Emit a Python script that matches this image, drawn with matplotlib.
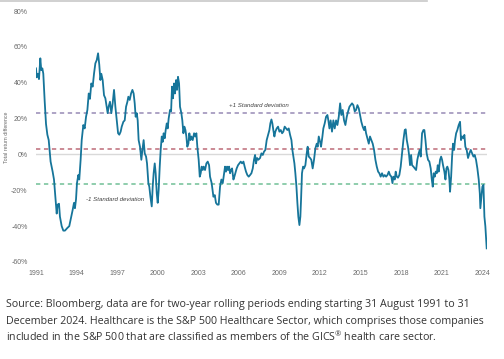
import matplotlib.pyplot as plt
from matplotlib.lines import Line2D

# two-year rolling total return difference, healthcare vs S&P 500 (%)
dates = [
    1991.67, 1991.72, 1991.82, 1991.89, 1991.99, 1992.06, 1992.14, 1992.21, 1992.31, 1992.41,
    1992.51, 1992.61, 1992.75, 1992.90, 1993.00, 1993.10, 1993.20, 1993.27, 1993.37, 1993.44,
    1993.57, 1993.69, 1993.81, 1993.99, 1994.13, 1994.28, 1994.38, 1994.48, 1994.55, 1994.63,
    1994.70, 1994.80, 1994.87, 1994.97, 1995.05, 1995.17, 1995.27, 1995.37, 1995.47, 1995.57,
    1995.66, 1995.76, 1995.86, 1995.96, 1996.06, 1996.16, 1996.26, 1996.35, 1996.43, 1996.50,
    1996.60, 1996.70, 1996.80, 1996.90, 1996.97, 1997.04, 1997.14, 1997.24, 1997.34, 1997.44,
    1997.54, 1997.64, 1997.74, 1997.83,
    1997.93, 1998.01, 1998.13, 1998.23, 1998.33, 1998.43, 1998.50, 1998.60, 1998.70, 1998.80,
    1998.89, 1998.97, 1999.04, 1999.12, 1999.19, 1999.26, 1999.36, 1999.46, 1999.54, 1999.63,
    1999.71, 1999.81, 1999.88, 1999.98, 2000.05, 2000.13, 2000.23, 2000.30, 2000.37, 2000.45,
    2000.52, 2000.60, 2000.67, 2000.74, 2000.82, 2000.89, 2000.97, 2001.04, 2001.11, 2001.19,
    2001.26, 2001.34, 2001.41, 2001.48, 2001.58, 2001.66, 2001.73, 2001.80, 2001.88, 2001.95,
    2002.03, 2002.10, 2002.17, 2002.25, 2002.32, 2002.42, 2002.49, 2002.57, 2002.64, 2002.72,
    2002.79, 2002.86, 2002.94, 2003.01, 2003.09, 2003.16, 2003.26, 2003.36, 2003.45, 2003.53,
    2003.60, 2003.70, 2003.78, 2003.85, 2003.92, 2004.00, 2004.07, 2004.17, 2004.27, 2004.37,
    2004.47, 2004.54,
    2004.66, 2004.79, 2004.89, 2004.98, 2005.08, 2005.18, 2005.28, 2005.38, 2005.48, 2005.58,
    2005.65, 2005.72, 2005.80, 2005.87, 2005.95, 2006.02, 2006.09, 2006.17, 2006.27, 2006.34,
    2006.41, 2006.51, 2006.61, 2006.71, 2006.81, 2006.91, 2007.01, 2007.10, 2007.20, 2007.30,
    2007.40, 2007.50, 2007.60, 2007.70, 2007.79, 2007.87, 2007.94, 2008.02, 2008.11, 2008.24,
    2008.34, 2008.44, 2008.53, 2008.63, 2008.73, 2008.83, 2008.93, 2009.00, 2009.08, 2009.15,
    2009.22, 2009.30, 2009.37, 2009.47, 2009.57, 2009.67, 2009.77, 2009.87, 2009.96, 2010.06,
    2010.16, 2010.26, 2010.36, 2010.46, 2010.56, 2010.63, 2010.70, 2010.78, 2010.85, 2010.93,
    2011.00, 2011.07, 2011.15, 2011.22,
    2011.27, 2011.34, 2011.42, 2011.49, 2011.59, 2011.69, 2011.76, 2011.84, 2011.94, 2012.03,
    2012.13, 2012.23, 2012.33, 2012.43, 2012.50, 2012.58, 2012.68, 2012.75, 2012.85, 2012.92,
    2013.02, 2013.12, 2013.22, 2013.29, 2013.37, 2013.46, 2013.56, 2013.66, 2013.76, 2013.86,
    2013.96, 2014.06, 2014.16, 2014.25, 2014.35, 2014.45, 2014.55, 2014.65, 2014.75, 2014.85,
    2014.94, 2015.04, 2015.14, 2015.24, 2015.34, 2015.44, 2015.54, 2015.63, 2015.73, 2015.83,
    2015.93, 2016.00, 2016.08, 2016.18, 2016.28, 2016.37, 2016.47, 2016.57, 2016.67, 2016.77,
    2016.87, 2016.97, 2017.06, 2017.16, 2017.26, 2017.36, 2017.46, 2017.56, 2017.66, 2017.76,
    2017.85,
    2017.95, 2018.03, 2018.10, 2018.20, 2018.27, 2018.35, 2018.44, 2018.54, 2018.64, 2018.74,
    2018.84, 2018.94, 2019.01, 2019.09, 2019.18, 2019.26, 2019.33, 2019.41, 2019.48, 2019.58,
    2019.68, 2019.78, 2019.87, 2019.97, 2020.05, 2020.12, 2020.22, 2020.32, 2020.39, 2020.47,
    2020.56, 2020.66, 2020.76, 2020.86, 2020.94, 2021.01, 2021.08, 2021.16, 2021.23, 2021.31,
    2021.38, 2021.45, 2021.55, 2021.63, 2021.70, 2021.77, 2021.87, 2021.95, 2022.02, 2022.09,
    2022.17, 2022.24, 2022.29, 2022.37, 2022.44, 2022.51, 2022.59, 2022.66, 2022.74, 2022.83,
    2022.93, 2023.03, 2023.10, 2023.18, 2023.28, 2023.35, 2023.42, 2023.52, 2023.62, 2023.72,
    2023.82, 2023.92, 2024.02, 2024.11, 2024.21, 2024.31, 2024.41, 2024.49, 2024.53, 2024.61,
    2024.68, 2024.76, 2024.83, 2024.90, 2024.96, 2025.00,
]
excess = [
    48, 43, 45, 42, 53.6, 47, 48, 45, 30, 17,
    11, 8, -4, -9.6, -14, -23.6, -33, -28, -27.5, -34.7,
    -40, -42.5, -42.5, -41, -40, -34.7, -31, -27, -30, -25,
    -16, -11.5, -14, -3, 8, 16.4, 14.5, 21, 24.8, 34,
    31, 39.6, 37.8, 45, 50.8, 52.6, 56.4, 50, 41.5, 45,
    41.5, 33, 31.3, 26.6, 23, 26.6, 29.4, 23, 28.5, 36,
    26.6, 19, 11.8, 11,
    12.7, 15.5, 18.2, 19, 26.6, 29.4, 32.2, 30.4, 34, 36,
    34, 28.5, 21, 23, 19, 8, 4.3, -3, 2.5, 8,
    0.6, -1.2, -5, -16, -18, -23.6, -29, -18, -10.5, -5,
    -10.5, -21.7, -27, -20, -6.8, 2.5, 10, 7, 11.8, 9,
    13.6, 17.3, 14.5, 20, 24.8, 24, 37.8, 31.3, 39.6, 34,
    41.5, 36, 43.3, 39.6, 26.6, 23, 19, 11.8, 15.5, 13.6,
    10, 4.3, 6, 11.8, 8, 10, 8, 11.8, 10, 11.8,
    4.3, -3, -12.4, -10.5, -6.8, -8.7, -6.8, -8.7, -5, -4,
    -6, -12.4,
    -16, -23.6, -22.7, -27, -28, -28, -18, -14, -16, -10.5,
    -6.8, -9.6, -6.8, -8.7, -6.8, -10.5, -8.7, -7.8, -14, -12.4,
    -10.5, -7.8, -6, -5, -4, -5, -4, -6.8, -9.6, -11.5,
    -12.4, -11.5, -10.5, -7.8, -3, -0.3, -5, -2, -3, -2,
    0.6, -0.3, 1.5, 2.5, 8, 10.9, 13.6, 17.3, 19.5, 17.3,
    13.6, 10, 12.7, 14.5, 15.5, 12.7, 13.6, 11.8, 12.7, 15.5,
    14.5, 13.6, 14.5, 10.9, 8, 2.5, -1.2, -5, -10.5, -18,
    -27, -34.7, -39.4, -34.7,
    -25.4, -10.5, -6.8, -7.8, -6, 0.6, 4.3, -1.2, -2, -3,
    -7.8, -3, 3.4, 6, 4.3, 10, 7, 4.3, 10, 14.5,
    17.3, 21, 22, 19, 14.5, 19, 12.7, 19, 14.5, 19,
    16.4, 21, 28.5, 22, 24.8, 19, 16.4, 21, 24, 26.6,
    27.5, 28.5, 27.5, 24, 24.8, 27.5, 25.7, 22, 18.2, 15.5,
    13.6, 15.5, 11.8, 9, 6, 10, 8, 6, 2.5, -3,
    -6.8, -9.6, -10.5, -12.4, -10.5, -12.4, -11.5, -12.4, -11.5, -9.6,
    -11.5,
    -12.4, -16, -12.4, -14, -9.6, -12.4, -13, -11.5, -6.8, 0.6,
    8, 13.6, 14, 8, 4.3, -0.3, -6, -0.3, -6, -6.8,
    -7.8, -8.7, -3, 0.6, 2.5, -1.2, 11.8, 13.6, 13.6, 8,
    0.6, -3, -4, -7.8, -14, -18, -10.5, -12.4, -9.6, -10.5,
    -6, -9.6, -3, -1.2, -3, -6, -9.6, -14, -7.8, -6.8,
    -8.7, -14, -20.8, -12.4, -1.2, 6, 2.5, 8, 11.8, 13.6,
    16.4, 18.2, 8, 10, 9, 10.9, 4.3, 2.5, -2, 0.6,
    2.5, 0.6, -1.2, -0.3, -3, -7.8, -14, -21.7, -30, -23.6,
    -18, -17, -34.7, -40, -47.7, -52.4,
]
assert len(dates) == len(excess)

mean_diff = 3.2
plus_one_sd = 23.0
minus_one_sd = -16.7

tick_years = [1991, 1994, 1997, 2000, 2003, 2006, 2009, 2012, 2015, 2018, 2021, 2024]
y_ticks = [-60, -40, -20, 0, 20, 40, 60, 80]

caption = [
    "Source: Bloomberg, data are for two-year rolling periods ending starting 31 August 1991 to 31",
    "December 2024. Healthcare is the S&P 500 Healthcare Sector, which comprises those companies",
    r"included in the S&P 500 that are classified as members of the GICS$^{\mathrm{®}}$ health care sector.",
]

plt.rcParams['mathtext.fontset'] = 'custom'
plt.rcParams['mathtext.rm'] = 'Open Sans'

fig = plt.figure(figsize=(5.04, 3.59), dpi=100)
W, H = 504, 359
ax = fig.add_axes([36 / W, 1 - 262 / H, 450.7 / W, 251 / H])

ax.axhline(0, color='#d9d9d9', lw=1.0, zorder=1)
ax.axhline(plus_one_sd, color='#a79cc0', lw=1.3, dashes=(2.4, 2.0), zorder=2)
ax.axhline(mean_diff, color='#c7818c', lw=1.3, dashes=(2.4, 2.0), zorder=2)
ax.axhline(minus_one_sd, color='#86c9a6', lw=1.3, dashes=(2.4, 2.0), zorder=2)

ax.plot(dates, excess, color='#16759a', lw=1.3, zorder=3)

ax.text(2008.16, 27.5, '+1 Standard deviation', fontsize=4.4, style='italic',
        color='#404040', ha='center', va='center', family='Liberation Sans')
ax.text(1997.5, -25.3, '-1 Standard deviation', fontsize=4.4, style='italic',
        color='#404040', ha='center', va='center', family='Liberation Sans')

ax.set_xlim(1991.67, 2025.0)
ax.set_ylim(-60, 80)
ax.set_xticks([y + 0.67 for y in tick_years])
ax.set_xticklabels([str(y) for y in tick_years])
ax.set_yticks(y_ticks)
ax.set_yticklabels([f'{v}%' for v in y_ticks])
ax.tick_params(length=0, labelsize=5, labelcolor='#6a6a6a', pad=6)
for lab in ax.get_xticklabels() + ax.get_yticklabels():
    lab.set_family('Liberation Sans')
for s in ax.spines.values():
    s.set_visible(False)

fig.text(7 / W, 1 - 137 / H, 'Total return difference', rotation=90, fontsize=3.8,
         color='#6a6a6a', ha='center', va='center', family='Liberation Sans')

# thin grey rule at the very top
fig.add_artist(Line2D([0, 427 / W], [1 - 0.8 / H, 1 - 0.8 / H], color='#c8c8c8', lw=1.2))

for i, line in enumerate(caption):
    fig.text(6 / W, 1 - (307 + 17 * i) / H, line, fontsize=7.7, color='#333333',
             ha='left', va='baseline', family='Open Sans')

fig.savefig('out.png', dpi=100)
